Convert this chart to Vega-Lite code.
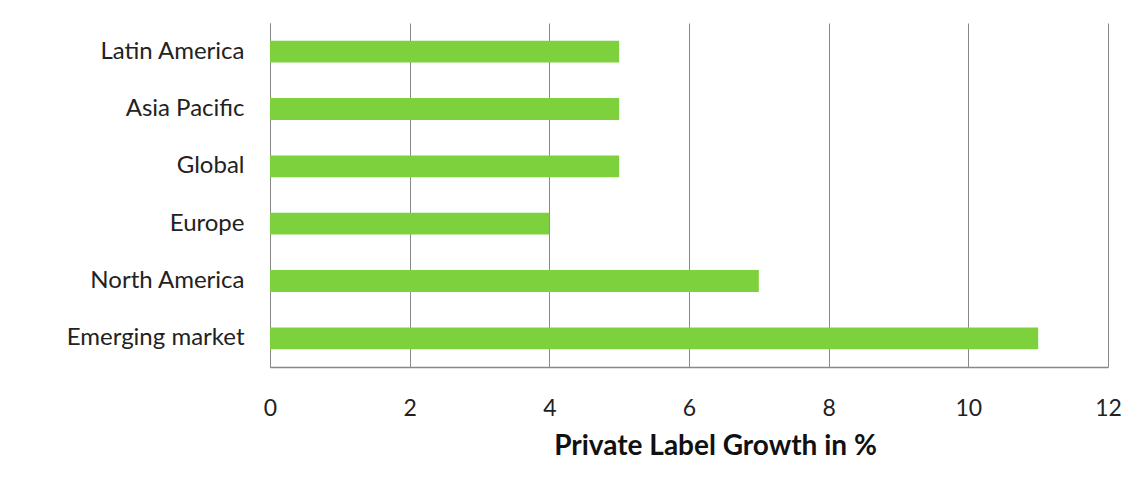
{
  "$schema": "https://vega.github.io/schema/vega-lite/v6.json",
  "width": 838,
  "height": 344,
  "autosize": {"type": "none"},
  "padding": {"left": 270, "top": 23, "right": 38, "bottom": 113},
  "background": "white",
  "data": {
    "values": [
      {"region": "Latin America", "growth": 5},
      {"region": "Asia Pacific", "growth": 5},
      {"region": "Global", "growth": 5},
      {"region": "Europe", "growth": 4},
      {"region": "North America", "growth": 7},
      {"region": "Emerging market", "growth": 11}
    ]
  },
  "mark": {"type": "bar", "color": "#7DD13C"},
  "encoding": {
    "y": {
      "field": "region",
      "type": "nominal",
      "sort": null,
      "scale": {"paddingInner": 0.62, "paddingOuter": 0.31},
      "axis": {
        "title": null,
        "ticks": false,
        "domain": true,
        "domainColor": "#888888",
        "labelFont": "Lato",
        "labelFontSize": 24,
        "labelColor": "#222222",
        "labelPadding": 26
      }
    },
    "x": {
      "field": "growth",
      "type": "quantitative",
      "scale": {"domain": [0, 12], "nice": false},
      "axis": {
        "values": [0, 2, 4, 6, 8, 10, 12],
        "title": "Private Label Growth in %",
        "titleFont": "Lato",
        "titleFontSize": 28,
        "titleFontWeight": "bold",
        "titleColor": "#111111",
        "titlePadding": 12,
        "titleX": 445,
        "ticks": false,
        "domain": true,
        "domainColor": "#888888",
        "domainWidth": 1.5,
        "labelFont": "Lato",
        "labelFontSize": 23,
        "labelColor": "#222222",
        "labelPadding": 30,
        "labelFlush": false,
        "grid": true,
        "gridColor": "#888888",
        "gridWidth": 1
      }
    }
  },
  "config": {"view": {"stroke": null}}
}
